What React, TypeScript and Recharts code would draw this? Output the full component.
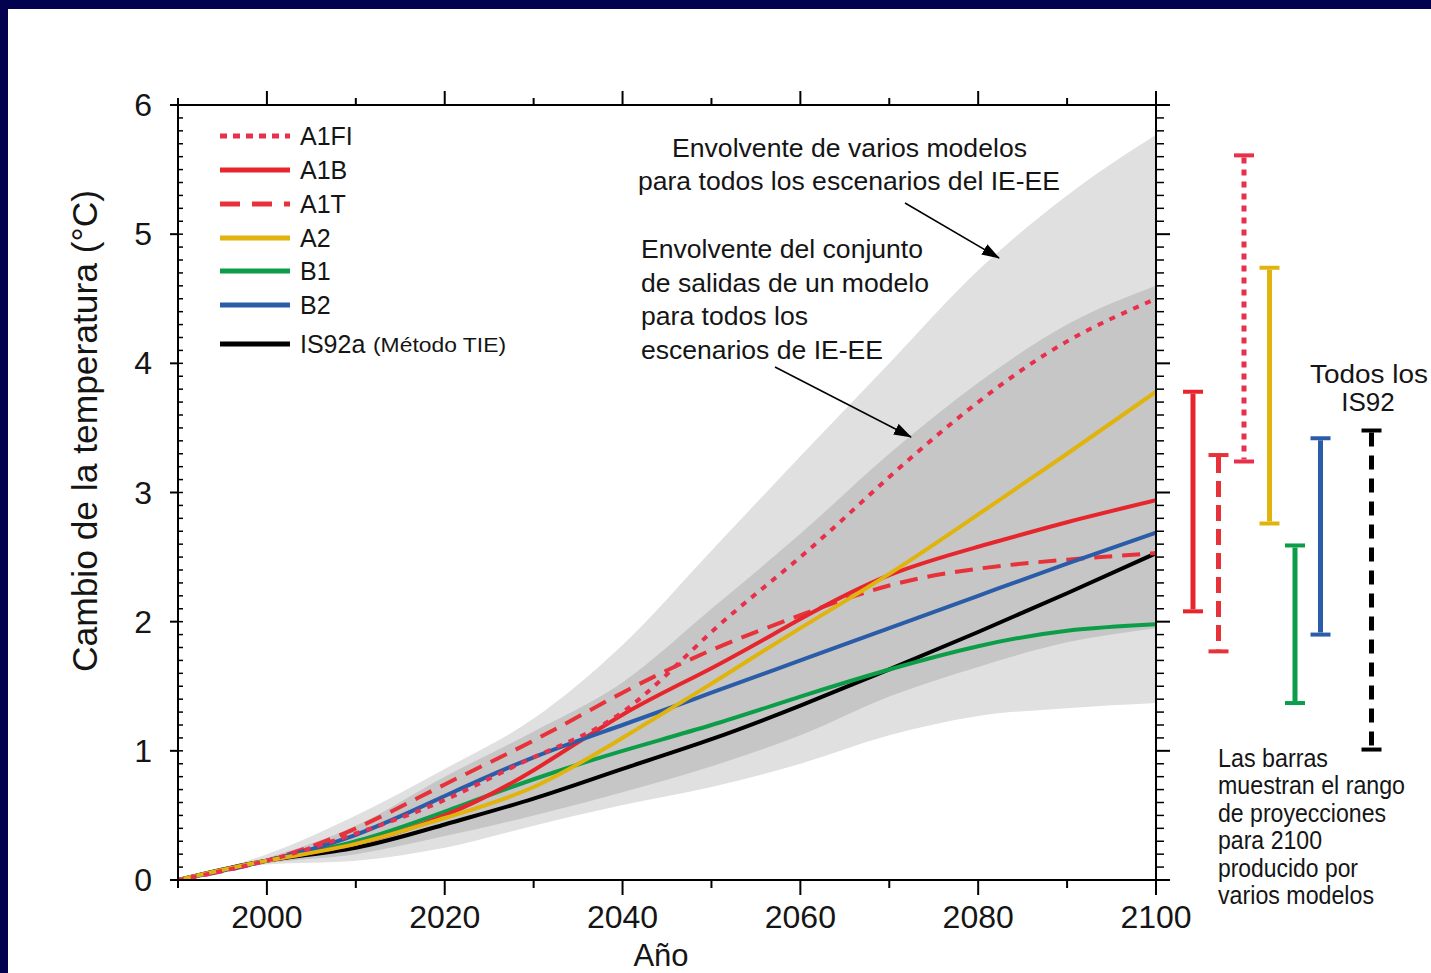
import React from 'react'
import { Area, Bar, ComposedChart, Legend, Line, XAxis, YAxis } from 'recharts'

const FONT = '"Liberation Sans", Arial, Helvetica, sans-serif'

// projection years (1990 baseline)
const YEARS = [1990, 2000, 2010, 2020, 2030, 2040, 2050, 2060, 2070, 2080, 2090, 2100]

// global mean temperature change per scenario (°C)
const A1FI = [0, 0.15, 0.36, 0.62, 0.95, 1.3, 1.92, 2.5, 3.12, 3.7, 4.17, 4.5]
const A1B = [0, 0.15, 0.28, 0.5, 0.85, 1.28, 1.64, 2.02, 2.36, 2.58, 2.77, 2.94]
const A1T = [0, 0.15, 0.4, 0.74, 1.08, 1.45, 1.78, 2.05, 2.28, 2.41, 2.48, 2.53]
const A2 = [0, 0.15, 0.28, 0.48, 0.72, 1.1, 1.52, 1.95, 2.37, 2.83, 3.3, 3.78]
const B1 = [0, 0.15, 0.3, 0.53, 0.78, 1.0, 1.2, 1.42, 1.63, 1.81, 1.93, 1.98]
const B2 = [0, 0.15, 0.35, 0.65, 0.95, 1.2, 1.45, 1.7, 1.95, 2.2, 2.45, 2.69]
const IS92A = [0, 0.15, 0.25, 0.43, 0.63, 0.86, 1.09, 1.35, 1.63, 1.92, 2.22, 2.53]

// several-models envelope (light grey)
const OUTER_LOW = [0, 0.12, 0.15, 0.25, 0.42, 0.58, 0.72, 0.9, 1.12, 1.27, 1.33, 1.37]
const OUTER_HIGH = [0, 0.2, 0.5, 0.86, 1.25, 1.82, 2.55, 3.28, 4.0, 4.72, 5.3, 5.77]
// single-model ensemble envelope (dark grey)
const INNER_LOW = [0, 0.13, 0.2, 0.34, 0.5, 0.68, 0.88, 1.12, 1.42, 1.65, 1.84, 1.95]
const INNER_HIGH = [0, 0.17, 0.42, 0.8, 1.15, 1.53, 2.1, 2.68, 3.3, 3.85, 4.3, 4.6]

// 2100 ranges across models ('' is an empty slot before IS92)
const RANGE_NAMES = ['A1B', 'A1T', 'A1FI', 'A2', 'B1', 'B2', '', 'IS92']
const RANGE_LOW = [2.08, 1.77, 3.24, 2.76, 1.37, 1.9, null, 1.01]
const RANGE_HIGH = [3.78, 3.29, 5.61, 4.74, 2.59, 3.42, null, 3.48]

const X_TICKS = [1990, 2000, 2010, 2020, 2030, 2040, 2050, 2060, 2070, 2080, 2090, 2100]
const Y_TICKS = Array.from({ length: 61 }, (_, i) => i / 10)

const SERIES = [
    { key: 'A1FI', label: 'A1FI', values: A1FI, color: '#e8304c', dash: '6 7', legendDash: '7 6' },
    { key: 'A1B', label: 'A1B', values: A1B, color: '#e6262c', dash: undefined, legendDash: undefined },
    { key: 'A1T', label: 'A1T', values: A1T, color: '#e8323a', dash: '18 10', legendDash: '20 12' },
    { key: 'A2', label: 'A2', values: A2, color: '#e0b40c', dash: undefined, legendDash: undefined },
    { key: 'B1', label: 'B1', values: B1, color: '#0c9d48', dash: undefined, legendDash: undefined },
    { key: 'B2', label: 'B2', values: B2, color: '#2b5ca8', dash: undefined, legendDash: undefined },
    { key: 'IS92a', label: 'IS92a', values: IS92A, color: '#000000', dash: undefined, legendDash: undefined },
]

// drawing order of the curves (later on top)
const DRAW_ORDER = ['IS92a', 'B1', 'A1T', 'A1B', 'B2', 'A2', 'A1FI']

const RANGE_STYLE: Record<string, { color: string; dash?: string }> = {
    A1B: { color: '#e6262c' },
    A1T: { color: '#e8323a', dash: '16 8' },
    A1FI: { color: '#e8304c', dash: '6 6' },
    A2: { color: '#e0b40c' },
    B1: { color: '#0c9d48' },
    B2: { color: '#2b5ca8' },
    IS92: { color: '#000000', dash: '14 9' },
}

const rows = YEARS.map((year, i) => {
    const row: Record<string, any> = {
        year,
        outer: [OUTER_LOW[i], OUTER_HIGH[i]],
        inner: [INNER_LOW[i], INNER_HIGH[i]],
    }
    SERIES.forEach(s => { row[s.key] = s.values[i] })
    return row
})

const rangeRows = RANGE_NAMES.map((name, i) => ({
    name: name || ' ',
    range: RANGE_LOW[i] == null ? null : [RANGE_LOW[i], RANGE_HIGH[i]],
}))

const AXIS_LINE = { stroke: '#000', strokeWidth: 2 }
const TEXT = '#151515'

const BottomTick = ({ x, y, payload }: any) => {
    const major = payload.value % 20 === 0
    return (
        <g>
            <line x1={x} x2={x} y1={y} y2={y + (major ? 15 : 8)} stroke="#000" strokeWidth={2} />
            {major && (
                <text x={x} y={y + 48} textAnchor="middle" fontSize={32} fontFamily={FONT} fill={TEXT}>
                    {payload.value}
                </text>
            )}
        </g>
    )
}

const TopTick = ({ x, y, payload }: any) => {
    const major = payload.value % 20 === 0
    return <line x1={x} x2={x} y1={y} y2={y - (major ? 14 : 7)} stroke="#000" strokeWidth={2} />
}

const isWhole = (v: number) => Math.abs(v - Math.round(v)) < 1e-6

const LeftTick = ({ x, y, payload }: any) => {
    const v = payload.value
    return (
        <g>
            <line x1={x} x2={x + 5} y1={y} y2={y} stroke="#000" strokeWidth={1.5} />
            {isWhole(v) && <line x1={x - 8} x2={x} y1={y} y2={y} stroke="#000" strokeWidth={2} />}
            {isWhole(v) && (
                <text x={x - 26} y={y + 11} textAnchor="end" fontSize={32} fontFamily={FONT} fill={TEXT}>
                    {Math.round(v)}
                </text>
            )}
        </g>
    )
}

const RightTick = ({ x, y, payload }: any) => {
    const major = isWhole(payload.value)
    return <line x1={x} x2={x + (major ? 14 : 8)} y1={y} y2={y} stroke="#000" strokeWidth={major ? 2 : 1.5} />
}

// I-shaped range marker for the 2100 bars
const RangeMark = (props: any) => {
    const { x, y, width, height, payload } = props
    const style = RANGE_STYLE[payload?.name]
    if (!style || !payload.range || height == null) return null
    const cx = x + width / 2
    const top = Math.min(y, y + height)
    const bottom = Math.max(y, y + height)
    return (
        <g>
            <line x1={cx} x2={cx} y1={top + 2} y2={bottom - 2} stroke={style.color} strokeWidth={5}
                  strokeDasharray={style.dash} />
            <line x1={cx - 10} x2={cx + 10} y1={top} y2={top} stroke={style.color} strokeWidth={4} />
            <line x1={cx - 10} x2={cx + 10} y1={bottom} y2={bottom} stroke={style.color} strokeWidth={4} />
        </g>
    )
}

const LEGEND_ROW_Y = [18, 52, 86, 120, 153, 187, 226]

const ScenarioLegend = () => (
    <svg width={330} height={250} style={{ display: 'block' }}>
        {SERIES.map((s, i) => (
            <g key={s.key}>
                <line x1={10} x2={80} y1={LEGEND_ROW_Y[i]} y2={LEGEND_ROW_Y[i]} stroke={s.color} strokeWidth={5}
                      strokeDasharray={s.legendDash} />
                <text x={90} y={LEGEND_ROW_Y[i] + 9} fontSize={25} fontFamily={FONT} fill={TEXT}>
                    {s.label}
                </text>
                {s.key === 'IS92a' && (
                    <text x={163} y={LEGEND_ROW_Y[i] + 8} fontSize={21} fontFamily={FONT} fill={TEXT}
                          textLength={133} lengthAdjust="spacingAndGlyphs">(Método TIE)</text>
                )}
            </g>
        ))}
    </svg>
)

const NOTE_LINES = [
    { text: 'Las barras', len: 110 },
    { text: 'muestran el rango', len: 187 },
    { text: 'de proyecciones', len: 168 },
    { text: 'para 2100', len: 104 },
    { text: 'producido por', len: 140 },
    { text: 'varios modelos', len: 156 },
]

export default function App() {
    return (
        <div style={{
            position: 'absolute', left: 0, top: 0, width: 1431, height: 973,
            background: '#02024e', overflow: 'hidden', fontFamily: FONT,
        }}>
            <div style={{ position: 'absolute', left: 8, top: 9, right: 0, bottom: 0, background: '#ffffff' }} />

            <div style={{ position: 'absolute', left: 0, top: 0 }}>
                <ComposedChart width={1431} height={973} data={rows}
                               margin={{ top: 85, right: 255, bottom: 33, left: 118 }}>
                    <XAxis xAxisId="b" dataKey="year" type="number" domain={[1990, 2100]} ticks={X_TICKS}
                           interval={0} height={60} tickSize={0} tickMargin={0} tickLine={false}
                           axisLine={AXIS_LINE} tick={(p: any) => <BottomTick {...p} />} allowDataOverflow />
                    <XAxis xAxisId="t" dataKey="year" type="number" orientation="top" domain={[1990, 2100]}
                           ticks={X_TICKS} interval={0} height={20} tickSize={0} tickMargin={0} tickLine={false}
                           axisLine={AXIS_LINE} tick={(p: any) => <TopTick {...p} />} allowDataOverflow />
                    <YAxis yAxisId="l" type="number" domain={[0, 6]} ticks={Y_TICKS} interval={0} width={60}
                           tickSize={0} tickMargin={0} tickLine={false} axisLine={AXIS_LINE}
                           tick={(p: any) => <LeftTick {...p} />} allowDataOverflow />
                    <YAxis yAxisId="r" type="number" orientation="right" domain={[0, 6]} ticks={Y_TICKS}
                           interval={0} width={20} tickSize={0} tickMargin={0} tickLine={false}
                           axisLine={AXIS_LINE} tick={(p: any) => <RightTick {...p} />} allowDataOverflow />

                    <Area xAxisId="b" yAxisId="l" dataKey="outer" type="monotone" stroke="none" fill="#e0e0e0"
                          fillOpacity={1} isAnimationActive={false} legendType="none" />
                    <Area xAxisId="b" yAxisId="l" dataKey="inner" type="monotone" stroke="none" fill="#c6c6c6"
                          fillOpacity={1} isAnimationActive={false} legendType="none" />

                    {DRAW_ORDER.map(key => {
                        const s = SERIES.find(d => d.key === key)!
                        return (
                            <Line key={key} xAxisId="b" yAxisId="l" dataKey={key} type="natural"
                                  stroke={s.color} strokeWidth={4} strokeDasharray={s.dash} dot={false}
                                  isAnimationActive={false} />
                        )
                    })}

                    <Legend layout="vertical" align="center" verticalAlign="middle"
                            wrapperStyle={{ left: 210, top: 118, width: 330, height: 250 }}
                            content={() => <ScenarioLegend />} />
                </ComposedChart>
            </div>

            {/* 2100 ranges, same vertical scale as the main plot */}
            <div style={{ position: 'absolute', left: 1180, top: 0 }}>
                <ComposedChart width={204} height={973} data={rangeRows} barCategoryGap={0}
                               margin={{ top: 105, right: 0, bottom: 93, left: 0 }}>
                    <XAxis dataKey="name" hide />
                    <YAxis type="number" domain={[0, 6]} hide allowDataOverflow />
                    <Bar dataKey="range" shape={(p: any) => <RangeMark {...p} />} isAnimationActive={false} />
                </ComposedChart>
            </div>

            <svg width={1431} height={973} style={{ position: 'absolute', left: 0, top: 0, pointerEvents: 'none' }}
                 fontFamily={FONT} fill={TEXT}>
                <defs>
                    <marker id="head" markerUnits="userSpaceOnUse" markerWidth={18} markerHeight={12}
                            refX={17} refY={6} orient="auto">
                        <path d="M0,0 L18,6 L0,12 Z" fill="#000" />
                    </marker>
                </defs>

                <text transform="translate(97,431) rotate(-90)" textAnchor="middle" fontSize={35}
                      textLength={482} lengthAdjust="spacingAndGlyphs">Cambio de la temperatura (°C)</text>
                <text x={661} y={966} textAnchor="middle" fontSize={31}>Año</text>

                <text x={672} y={157} fontSize={26} textLength={355} lengthAdjust="spacingAndGlyphs">
                    Envolvente de varios modelos
                </text>
                <text x={638} y={190} fontSize={26} textLength={422} lengthAdjust="spacingAndGlyphs">
                    para todos los escenarios del IE-EE
                </text>
                <line x1={905} y1={203} x2={999} y2={258} stroke="#000" strokeWidth={1.5} markerEnd="url(#head)" />

                <text x={641} y={258} fontSize={26} textLength={282} lengthAdjust="spacingAndGlyphs">
                    Envolvente del conjunto
                </text>
                <text x={641} y={292} fontSize={26} textLength={288} lengthAdjust="spacingAndGlyphs">
                    de salidas de un modelo
                </text>
                <text x={641} y={325} fontSize={26} textLength={167} lengthAdjust="spacingAndGlyphs">
                    para todos los
                </text>
                <text x={641} y={359} fontSize={26} textLength={242} lengthAdjust="spacingAndGlyphs">
                    escenarios de IE-EE
                </text>
                <line x1={775} y1={367} x2={911} y2={437} stroke="#000" strokeWidth={1.5} markerEnd="url(#head)" />

                <text x={1369} y={383} textAnchor="middle" fontSize={26} textLength={118}
                      lengthAdjust="spacingAndGlyphs">Todos los</text>
                <text x={1368} y={411} textAnchor="middle" fontSize={26}>IS92</text>

                {NOTE_LINES.map((l, i) => (
                    <text key={l.text} x={1218} y={767 + i * 27.4} fontSize={26} textLength={l.len}
                          lengthAdjust="spacingAndGlyphs">{l.text}</text>
                ))}
            </svg>
        </div>
    )
}
